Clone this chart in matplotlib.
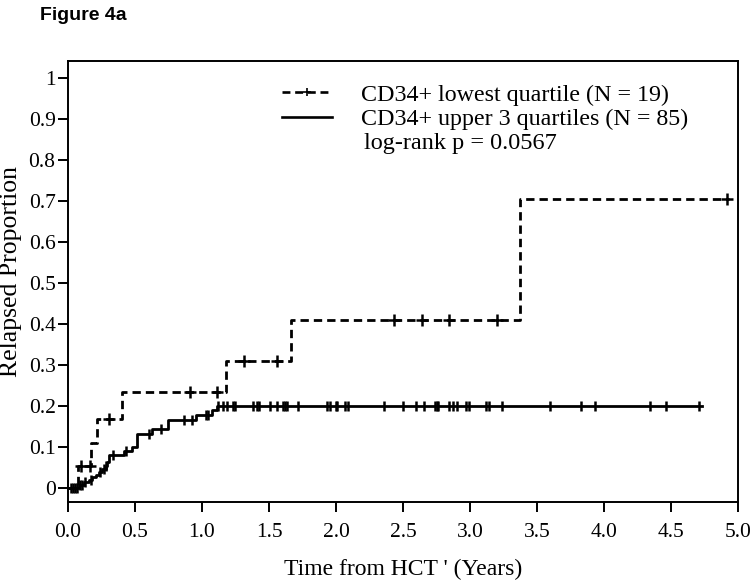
import numpy as np
import matplotlib.pyplot as plt
from matplotlib.lines import Line2D

# CD34+ lowest quartile (N = 19): step times and cumulative relapse levels
low_t = [0.0, 0.075, 0.17, 0.22, 0.40, 1.18, 1.665, 3.37, 4.93]
low_y = [0.0, 0.053, 0.111, 0.168, 0.235, 0.31, 0.41, 0.705, 0.705]
low_cens_t = [0.095, 0.164, 0.306, 0.91, 1.11, 1.31, 1.56, 2.43, 2.64, 2.84, 3.20, 4.92]
low_cens_y = [0.053, 0.053, 0.168, 0.235, 0.235, 0.31, 0.31, 0.41, 0.41, 0.41, 0.41, 0.705]

# CD34+ upper 3 quartiles (N = 85)
up_t = [0.0, 0.082, 0.119, 0.157, 0.182, 0.206, 0.231, 0.256, 0.281, 0.293, 0.306,
        0.418, 0.48, 0.512, 0.63, 0.746, 0.955, 1.078, 1.114, 4.73]
up_y = [0.0, 0.008, 0.014, 0.02, 0.026, 0.033, 0.038, 0.046, 0.054, 0.063, 0.081,
        0.091, 0.099, 0.132, 0.145, 0.165, 0.178, 0.19, 0.2, 0.2]
up_cens_t = [0.02, 0.035, 0.05, 0.065, 0.09, 0.105, 0.13, 0.17, 0.24, 0.265, 0.285,
             0.338, 0.43, 0.604, 0.692, 0.866, 0.928, 1.027, 1.045,
             1.12, 1.16, 1.19, 1.23, 1.246, 1.383, 1.41, 1.428, 1.507, 1.557, 1.606,
             1.619, 1.632, 1.719, 1.93, 1.955, 2.0, 2.01, 2.07, 2.09, 2.36, 2.50,
             2.595, 2.657, 2.74, 2.75, 2.763, 2.84, 2.87, 2.90, 2.97, 2.995, 3.12,
             3.145, 3.24, 3.60, 3.83, 3.93, 4.34, 4.46, 4.71]

plt.rcParams['font.family'] = ['Liberation Serif', 'DejaVu Serif']

fig = plt.figure(figsize=(7.54, 5.84), dpi=100)
ax = fig.add_axes([68/754, 1-502/584, 670/754, 441/584])

# censored points sit on the current step level
up_cens_y = [up_y[np.searchsorted(up_t, t, side='right') - 1] for t in up_cens_t]

ax.step(up_t, up_y, where='post', color='black', lw=2.0)
ax.plot(up_cens_t, up_cens_y, ls='none', marker='|', ms=7.5, mew=1.8, color='black')

ax.step(low_t, low_y, where='post', color='black', lw=2.0, dashes=(3, 1.8))
ax.plot(low_cens_t, low_cens_y, ls='none', marker='+', ms=8.5, mew=1.8, color='black')

ax.set_xlim(0, 5)
ax.set_ylim(-0.034, 1.041)
ax.set_xticks(np.arange(0, 5.01, 0.5))
ax.set_xticklabels([f'{v:.1f}' for v in np.arange(0, 5.01, 0.5)])
ax.set_yticks(np.arange(0, 1.01, 0.1))
ax.set_yticklabels(['0'] + [f'{v:.1f}' for v in np.arange(0.1, 0.95, 0.1)] + ['1'])
ax.tick_params(direction='out', length=7, width=1.4, labelsize=15.5, pad=2)
ax.tick_params(axis='x', pad=8)
for s in ax.spines.values():
    s.set_linewidth(1.4)

ax.set_ylabel('Relapsed Proportion', fontsize=18.5)
ax.yaxis.set_label_coords(-0.068, 0.522)
ax.set_xlabel("Time from HCT ' (Years)", fontsize=17, labelpad=12)

handles = [Line2D([], [], color='black', lw=1.9, dashes=(3, 1.8), marker='+', ms=6, mew=1.2),
           Line2D([], [], color='black', lw=1.9)]
ax.legend(handles, ['CD34+ lowest quartile (N = 19)', 'CD34+ upper 3 quartiles (N = 85)'],
          loc='upper left', bbox_to_anchor=(0.319, 0.948), frameon=False, fontsize=17.3,
          handlelength=2.1, handletextpad=1.2, labelspacing=0.1, borderpad=0, borderaxespad=0,
          numpoints=1)
ax.text(0.442, 0.814, 'log-rank p = 0.0567', transform=ax.transAxes, fontsize=17.5,
        va='center', ha='left')

fig.text(40/754, 1-16/584, 'Figure 4a', fontsize=14, fontweight='bold',
         family=['Liberation Sans', 'DejaVu Sans'], va='center', ha='left')

fig.savefig('out.png', dpi=100)
